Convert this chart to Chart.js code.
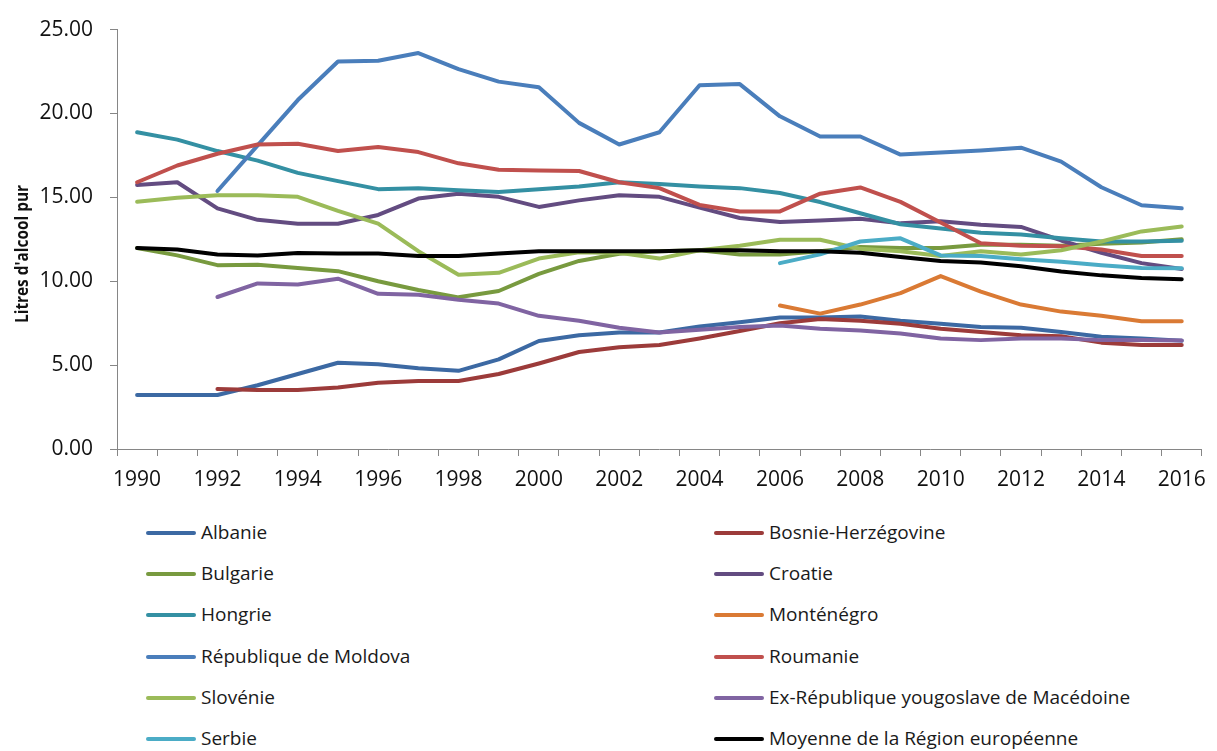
<!DOCTYPE html>
<html>
<head>
<meta charset="utf-8">
<title>Litres d'alcool pur</title>
<script src="https://cdn.jsdelivr.net/npm/chart.js@4.4.1/dist/chart.umd.min.js"></script>
<style>
    body { margin: 0; background: #fff; }
    #wrap { position: relative; width: 1217px; height: 751px; background: #fff; }
    #chart { position: absolute; left: 0; top: 0; }
    .legend-item { position: absolute; height: 28px; line-height: 28px; font: 19px 'Open Sans', sans-serif; color: #1a1a1a; white-space: nowrap; }
    .legend-item .swatch { position: absolute; left: 0; top: 12px; width: 50px; height: 4px; border-radius: 2px; }
    .legend-item .label { position: absolute; left: 55px; top: 0; }
</style>
</head>
<body>
<div id="wrap">
    <canvas id="chart" width="1217" height="500"></canvas>
    <div id="legend"></div>
</div>
<script>
// Years on the x axis
const years = [];
for (let y = 1990; y <= 2016; y++) years.push(String(y));

const yTitle = "Litres d'alcool pur";
const yTicks = [0, 5, 10, 15, 20, 25];

// Series values (null = no data)
const albanie = [3.22, 3.22, 3.22, 3.80, 4.47, 5.14, 5.05, 4.82, 4.66, 5.34, 6.44, 6.78, 6.94, 6.94, 7.30, 7.55, 7.84, 7.84, 7.90, 7.65, 7.46, 7.27, 7.23, 6.98, 6.69, 6.59, 6.46];
const bosnie = [null, null, 3.57, 3.51, 3.51, 3.66, 3.95, 4.05, 4.05, 4.47, 5.10, 5.78, 6.07, 6.20, 6.59, 7.03, 7.50, 7.75, 7.65, 7.46, 7.17, 6.98, 6.78, 6.72, 6.34, 6.20, 6.20];
const bulgarie = [11.98, 11.54, 10.96, 10.98, 10.79, 10.60, 10.00, 9.48, 9.04, 9.42, 10.44, 11.21, 11.64, 11.79, 11.85, 11.60, 11.60, 11.79, 12.04, 11.98, 11.98, 12.18, 12.18, 12.12, 12.24, 12.31, 12.50];
const croatie = [15.74, 15.90, 14.34, 13.66, 13.43, 13.43, 13.95, 14.93, 15.22, 15.03, 14.43, 14.82, 15.13, 15.03, 14.39, 13.77, 13.53, 13.62, 13.72, 13.45, 13.57, 13.37, 13.24, 12.43, 11.70, 11.08, 10.73];
const hongrie = [18.88, 18.44, 17.76, 17.19, 16.46, 15.97, 15.49, 15.55, 15.42, 15.32, 15.49, 15.65, 15.90, 15.80, 15.65, 15.55, 15.26, 14.72, 14.05, 13.40, 13.14, 12.89, 12.79, 12.56, 12.37, 12.37, 12.41];
const montenegro = [null, null, null, null, null, null, null, null, null, null, null, null, null, null, null, null, 8.55, 8.07, 8.61, 9.29, 10.31, 9.38, 8.61, 8.19, 7.94, 7.61, 7.61];
const moldova = [null, null, 15.38, 18.10, 20.80, 23.10, 23.14, 23.60, 22.64, 21.90, 21.56, 19.44, 18.15, 18.88, 21.68, 21.75, 19.83, 18.63, 18.63, 17.55, 17.67, 17.80, 17.96, 17.13, 15.60, 14.53, 14.35];
const roumanie = [15.90, 16.90, 17.60, 18.15, 18.20, 17.76, 18.00, 17.70, 17.03, 16.65, 16.60, 16.57, 15.90, 15.55, 14.55, 14.16, 14.16, 15.22, 15.59, 14.73, 13.50, 12.27, 12.12, 12.08, 11.89, 11.50, 11.50];
const slovenie = [14.74, 14.97, 15.13, 15.13, 15.03, 14.20, 13.43, 11.79, 10.39, 10.50, 11.35, 11.73, 11.69, 11.35, 11.85, 12.12, 12.47, 12.47, 11.93, 11.79, 11.50, 11.79, 11.60, 11.85, 12.37, 12.97, 13.26];
const macedoine = [null, null, 9.06, 9.87, 9.81, 10.15, 9.25, 9.19, 8.90, 8.67, 7.94, 7.65, 7.23, 6.94, 7.11, 7.27, 7.36, 7.17, 7.07, 6.88, 6.59, 6.49, 6.59, 6.59, 6.49, 6.49, 6.47];
const serbie = [null, null, null, null, null, null, null, null, null, null, null, null, null, null, null, null, 11.08, 11.60, 12.37, 12.56, 11.54, 11.50, 11.31, 11.16, 10.96, 10.79, 10.77];
const moyenne = [11.98, 11.89, 11.60, 11.54, 11.69, 11.65, 11.65, 11.50, 11.50, 11.65, 11.79, 11.79, 11.79, 11.79, 11.85, 11.85, 11.79, 11.79, 11.70, 11.45, 11.21, 11.12, 10.89, 10.58, 10.35, 10.19, 10.12];

const seriesNames = ['Albanie', 'Bosnie-Herzégovine', 'Bulgarie', 'Croatie', 'Hongrie', 'Monténégro',
    'République de Moldova', 'Roumanie', 'Slovénie', 'Ex-République yougoslave de Macédoine', 'Serbie',
    'Moyenne de la Région européenne'];
const seriesValues = [albanie, bosnie, bulgarie, croatie, hongrie, montenegro,
    moldova, roumanie, slovenie, macedoine, serbie, moyenne];
const seriesColors = ['#3C69A3', '#9C3B3A', '#789A3F', '#634C81', '#3490A3', '#DA7A34',
    '#4A7EBB', '#C0504D', '#9BBB59', '#8064A2', '#4BACC6', '#000000'];

// Rotated y-axis title, placed like the original (condensed to its width)
const yTitlePlugin = {
    id: 'yTitle',
    afterDraw(chart) {
        const ctx = chart.ctx;
        ctx.save();
        ctx.translate(23, 254);
        ctx.rotate(-Math.PI / 2);
        ctx.font = 'bold 17px "Open Sans", sans-serif';
        ctx.fillStyle = '#111';
        ctx.textAlign = 'center';
        ctx.textBaseline = 'middle';
        ctx.fillText(yTitle, 0, 0, 138);
        ctx.restore();
    }
};

const datasets = seriesNames.map(function (name, i) {
    return {
        label: name,
        data: seriesValues[i],
        borderColor: seriesColors[i],
        backgroundColor: seriesColors[i],
        borderWidth: 4,
        borderCapStyle: 'round',
        borderJoinStyle: 'round',
        pointRadius: 0,
        tension: 0,
        fill: false,
        order: seriesNames.length - i // later series on top, like Excel
    };
});

const axisGrey = '#868686';

new Chart(document.getElementById('chart').getContext('2d'), {
    type: 'line',
    data: { labels: years, datasets: datasets },
    options: {
        responsive: false,
        animation: false,
        events: [],
        layout: { padding: { top: 17, right: 14, left: 0, bottom: 0 } },
        plugins: { legend: { display: false }, tooltip: { enabled: false } },
        scales: {
            x: {
                offset: true,
                grid: { offset: true, drawOnChartArea: false, drawTicks: true, tickLength: 7, color: axisGrey },
                border: { display: true, color: axisGrey, width: 1 },
                ticks: {
                    autoSkip: false,
                    maxRotation: 0,
                    padding: 11,
                    color: '#111',
                    font: { family: "'Open Sans', sans-serif", size: 21 },
                    callback: function (val, i) {
                        return i % 2 === 0 ? this.getLabelForValue(val) : '';
                    }
                },
                afterFit: function (scale) { scale.height = 51; }
            },
            y: {
                min: 0,
                max: 25,
                afterBuildTicks: function (scale) {
                    scale.ticks = yTicks.map(function (v) { return { value: v }; });
                },
                grid: { drawOnChartArea: false, drawTicks: true, tickLength: 7, color: axisGrey },
                border: { display: true, color: axisGrey, width: 1 },
                ticks: {
                    padding: 17,
                    color: '#111',
                    font: { family: "'Open Sans', sans-serif", size: 21 },
                    callback: function (v) { return v.toFixed(2); }
                },
                afterFit: function (scale) { scale.width = 117; }
            }
        }
    },
    plugins: [yTitlePlugin]
});

// Two-column legend below the chart
const legend = document.getElementById('legend');
seriesNames.forEach(function (name, i) {
    const row = Math.floor(i / 2);
    const col = i % 2;
    const item = document.createElement('div');
    item.className = 'legend-item';
    item.style.left = (col === 0 ? 146 : 714) + 'px';
    item.style.top = (533 + row * 41.2 - 14) + 'px';

    const swatch = document.createElement('span');
    swatch.className = 'swatch';
    swatch.style.background = seriesColors[i];
    item.appendChild(swatch);

    const label = document.createElement('span');
    label.className = 'label';
    label.textContent = name;
    item.appendChild(label);

    legend.appendChild(item);
});
</script>
</body>
</html>
